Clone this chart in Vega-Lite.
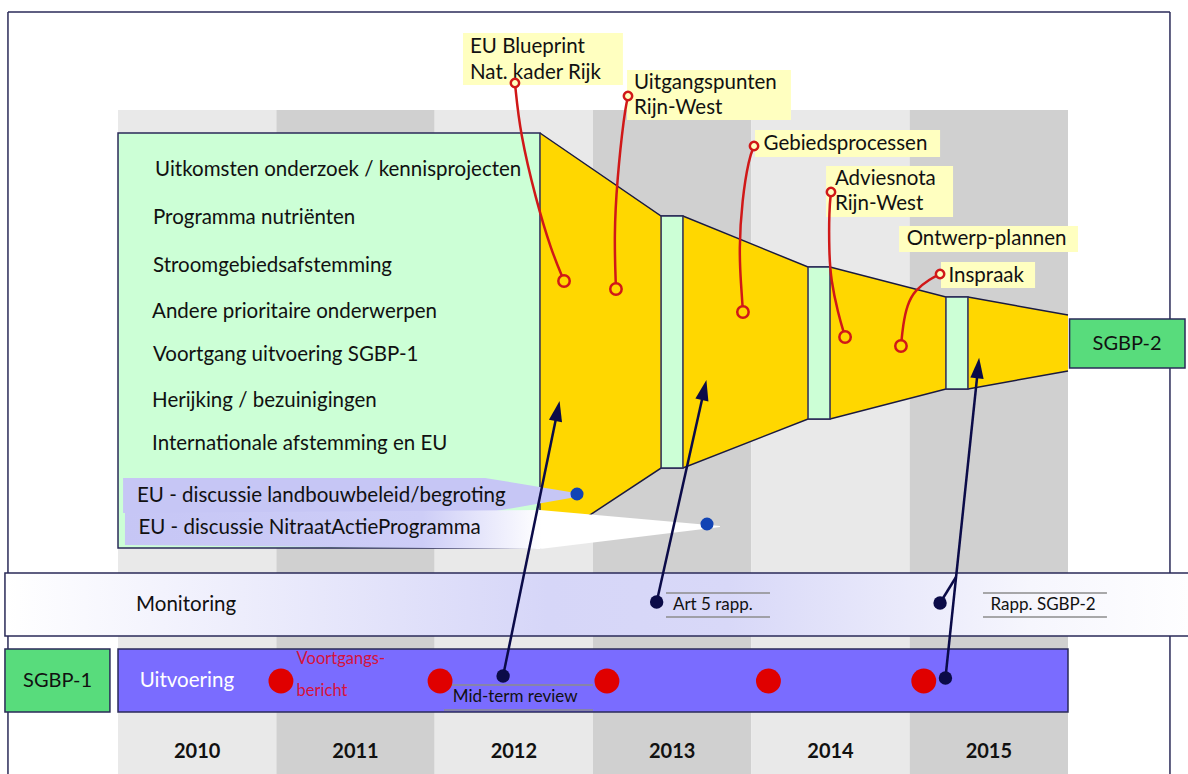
{
 "$schema": "https://vega.github.io/schema/vega-lite/v6.json",
 "width": 1188, "height": 774, "autosize": "none", "padding": 0,
 "background": "white",
 "config": {"view": {"stroke": null}, "text": {"font": "Lato", "fontSize": 20.5, "align": "left", "baseline": "middle", "color": "#111111"}},
 "encoding": {
  "x": {"field": "x", "type": "quantitative", "scale": {"domain": [2009.2547, 2016.7579], "nice": false, "zero": false}, "axis": null},
  "y": {"field": "y", "type": "quantitative", "scale": {"domain": [0, 774], "reverse": true, "nice": false, "zero": false}, "axis": null}
 },
 "layer": [
  {"data": {"values": [
    {"x": 2010, "x2": 2011, "y": 110, "y2": 774, "shade": "light"},
    {"x": 2011, "x2": 2012, "y": 110, "y2": 774, "shade": "dark"},
    {"x": 2012, "x2": 2013, "y": 110, "y2": 774, "shade": "light"},
    {"x": 2013, "x2": 2014, "y": 110, "y2": 774, "shade": "dark"},
    {"x": 2014, "x2": 2015, "y": 110, "y2": 774, "shade": "light"},
    {"x": 2015, "x2": 2016, "y": 110, "y2": 774, "shade": "dark"}]},
   "mark": {"type": "rect"},
   "encoding": {"x2": {"field": "x2"}, "y2": {"field": "y2"},
    "color": {"field": "shade", "type": "nominal", "scale": {"domain": ["light", "dark"], "range": ["#e9e9e9", "#d0d0d0"]}, "legend": null}}},
  {"data": {"values": [
    {"x": 2009.305, "x2": 2009.305, "y": 12, "y2": 774},
    {"x": 2016.644, "x2": 2016.644, "y": 12, "y2": 774},
    {"x": 2009.305, "x2": 2016.644, "y": 12, "y2": 12}]},
   "mark": {"type": "rule", "color": "#2a2a58", "strokeWidth": 1.5},
   "encoding": {"x2": {"field": "x2"}, "y2": {"field": "y2"}}},
  {"data": {"name": "funnel", "values": [
    {"x": 2012.665, "top": 133, "bot": 548},
    {"x": 2013.430, "top": 216, "bot": 468},
    {"x": 2013.568, "top": 216, "bot": 468},
    {"x": 2014.358, "top": 267, "bot": 419},
    {"x": 2014.497, "top": 267, "bot": 419},
    {"x": 2015.229, "top": 297, "bot": 389},
    {"x": 2015.368, "top": 297, "bot": 389},
    {"x": 2016.000, "top": 315, "bot": 371}]},
   "layer": [
    {"mark": {"type": "area", "color": "#ffd700", "opacity": 1},
     "encoding": {"y": {"field": "top", "type": "quantitative"}, "y2": {"field": "bot"}}},
    {"mark": {"type": "line", "color": "#1a1a40", "strokeWidth": 1.5},
     "encoding": {"y": {"field": "top", "type": "quantitative"}}},
    {"mark": {"type": "line", "color": "#1a1a40", "strokeWidth": 1.5},
     "encoding": {"y": {"field": "bot", "type": "quantitative"}}}
   ]},
  {"data": {"values": [
    {"x": 2010, "x2": 2012.665, "y": 133, "y2": 548},
    {"x": 2013.430, "x2": 2013.568, "y": 216, "y2": 468},
    {"x": 2014.358, "x2": 2014.497, "y": 267, "y2": 419},
    {"x": 2015.229, "x2": 2015.368, "y": 297, "y2": 389}]},
   "mark": {"type": "rect", "fill": "#ccffd6", "stroke": "#2a2a58", "strokeWidth": 1.5},
   "encoding": {"x2": {"field": "x2"}, "y2": {"field": "y2"}}},
  {"data": {"values": [
    {"x": 2010.032, "y": 478, "y2": 513},
    {"x": 2012.318, "y": 478, "y2": 513},
    {"x": 2012.930, "y": 494, "y2": 496}]},
   "mark": {"type": "area", "color": "#c6c6f5", "opacity": 1},
   "encoding": {"y2": {"field": "y2"}}},
  {"data": {"values": [
    {"x": 2010.044, "y": 513, "y2": 545},
    {"x": 2012.665, "y": 510, "y2": 549},
    {"x": 2013.802, "y": 526, "y2": 527}]},
   "mark": {"type": "area", "opacity": 1, "fill": {"gradient": "linear", "x1": 0, "x2": 1, "y1": 0, "y2": 0, "stops": [
      {"offset": 0, "color": "#c6c6f5"}, {"offset": 0.5, "color": "#cdcdf7"}, {"offset": 0.7, "color": "#ffffff"}, {"offset": 1, "color": "#ffffff"}]}},
   "encoding": {"y2": {"field": "y2"}}},
  {"data": {"values": [{"x": 2012.899, "y": 494}, {"x": 2013.720, "y": 524}]},
   "mark": {"type": "point", "shape": "circle", "filled": true, "color": "#1244b4", "size": 170, "opacity": 1}},
  {"data": {"values": [
    {"x": 2010.234, "y": 170, "label": "Uitkomsten onderzoek / kennisprojecten"},
    {"x": 2010.221, "y": 218, "label": "Programma nutriënten"},
    {"x": 2010.221, "y": 266, "label": "Stroomgebiedsafstemming"},
    {"x": 2010.215, "y": 312, "label": "Andere prioritaire onderwerpen"},
    {"x": 2010.221, "y": 355, "label": "Voortgang uitvoering SGBP-1"},
    {"x": 2010.215, "y": 401, "label": "Herijking / bezuinigingen"},
    {"x": 2010.215, "y": 444, "label": "Internationale afstemming en EU"},
    {"x": 2010.120, "y": 496, "label": "EU - discussie landbouwbeleid/begroting"},
    {"x": 2010.129, "y": 528, "label": "EU - discussie NitraatActieProgramma"}]},
   "mark": {"type": "text"},
   "encoding": {"text": {"field": "label"}}},
  {"data": {"values": [
    {"x": 2012.179, "x2": 2013.189, "y": 33, "y2": 85},
    {"x": 2013.215, "x2": 2014.250, "y": 70, "y2": 120},
    {"x": 2014.023, "x2": 2015.192, "y": 130, "y2": 157},
    {"x": 2014.472, "x2": 2015.274, "y": 166, "y2": 217},
    {"x": 2014.933, "x2": 2016.063, "y": 226, "y2": 252},
    {"x": 2015.198, "x2": 2015.792, "y": 262, "y2": 288}]},
   "mark": {"type": "rect", "fill": "#ffffc0"},
   "encoding": {"x2": {"field": "x2"}, "y2": {"field": "y2"}}},
  {"data": {"values": [
    {"x": 2012.223, "y": 47, "label": "EU Blueprint"},
    {"x": 2012.223, "y": 73, "label": "Nat. kader Rijk"},
    {"x": 2013.259, "y": 83, "label": "Uitgangspunten"},
    {"x": 2013.259, "y": 108, "label": "Rijn-West"},
    {"x": 2014.077, "y": 144, "label": "Gebiedsprocessen"},
    {"x": 2014.528, "y": 179, "label": "Adviesnota"},
    {"x": 2014.528, "y": 204, "label": "Rijn-West"},
    {"x": 2014.981, "y": 239, "label": "Ontwerp-plannen"},
    {"x": 2015.245, "y": 276, "label": "Inspraak"}]},
   "mark": {"type": "text"},
   "encoding": {"text": {"field": "label"}}},
  {"data": {"name": "connectors", "values": [
    {"id": "a", "i": 0, "x": 2012.507, "y": 83, "end": "top"},
    {"id": "a", "i": 1, "x": 2012.539, "y": 133},
    {"id": "a", "i": 2, "x": 2012.640, "y": 200},
    {"id": "a", "i": 3, "x": 2012.735, "y": 250},
    {"id": "a", "i": 4, "x": 2012.817, "y": 281, "end": "bottom"},
    {"id": "b", "i": 0, "x": 2013.221, "y": 96, "end": "top"},
    {"id": "b", "i": 1, "x": 2013.196, "y": 115},
    {"id": "b", "i": 2, "x": 2013.152, "y": 180},
    {"id": "b", "i": 3, "x": 2013.133, "y": 235},
    {"id": "b", "i": 4, "x": 2013.145, "y": 289, "end": "bottom"},
    {"id": "c", "i": 0, "x": 2014.017, "y": 146, "end": "top"},
    {"id": "c", "i": 1, "x": 2013.985, "y": 158},
    {"id": "c", "i": 2, "x": 2013.941, "y": 200},
    {"id": "c", "i": 3, "x": 2013.922, "y": 250},
    {"id": "c", "i": 4, "x": 2013.935, "y": 285},
    {"id": "c", "i": 5, "x": 2013.947, "y": 312, "end": "bottom"},
    {"id": "d", "i": 0, "x": 2014.503, "y": 192, "end": "top"},
    {"id": "d", "i": 1, "x": 2014.491, "y": 210},
    {"id": "d", "i": 2, "x": 2014.491, "y": 253},
    {"id": "d", "i": 3, "x": 2014.503, "y": 280},
    {"id": "d", "i": 4, "x": 2014.547, "y": 313},
    {"id": "d", "i": 5, "x": 2014.592, "y": 337, "end": "bottom"},
    {"id": "e", "i": 0, "x": 2015.192, "y": 274, "end": "top"},
    {"id": "e", "i": 1, "x": 2015.128, "y": 279},
    {"id": "e", "i": 2, "x": 2015.034, "y": 290},
    {"id": "e", "i": 3, "x": 2014.983, "y": 305},
    {"id": "e", "i": 4, "x": 2014.958, "y": 325},
    {"id": "e", "i": 5, "x": 2014.945, "y": 346, "end": "bottom"}]},
   "layer": [
    {"mark": {"type": "line", "color": "#d01818", "strokeWidth": 2.5, "interpolate": "basis"},
     "encoding": {"detail": {"field": "id"}, "order": {"field": "i", "type": "quantitative"}}},
    {"transform": [{"filter": "datum.end === 'top'"}],
     "mark": {"type": "point", "shape": "circle", "filled": true, "fill": "#ffffc0", "stroke": "#d01818", "strokeWidth": 2.5, "size": 70, "opacity": 1}},
    {"transform": [{"filter": "datum.end === 'bottom'"}],
     "mark": {"type": "point", "shape": "circle", "filled": true, "fill": "#ffd700", "stroke": "#d01818", "strokeWidth": 2.5, "size": 130, "opacity": 1}}
   ]},
  {"data": {"values": [{"x": 2009.286, "x2": 2016.9, "y": 573, "y2": 636}]},
   "mark": {"type": "rect", "stroke": "#2a2a58", "strokeWidth": 1.5, "fill": {"gradient": "linear", "x1": 0, "x2": 1, "y1": 0, "y2": 0, "stops": [
      {"offset": 0, "color": "#ffffff"}, {"offset": 0.45, "color": "#d6d6f8"}, {"offset": 0.6, "color": "#d8d8f8"}, {"offset": 0.85, "color": "#f6f6fd"}, {"offset": 1, "color": "#ffffff"}]}},
   "encoding": {"x2": {"field": "x2"}, "y2": {"field": "y2"}}},
  {"data": {"values": [
    {"x": 2013.461, "x2": 2014.118, "y": 593}, {"x": 2013.461, "x2": 2014.118, "y": 617},
    {"x": 2015.463, "x2": 2016.246, "y": 593}, {"x": 2015.463, "x2": 2016.246, "y": 617}]},
   "mark": {"type": "rule", "color": "#8c8c8c", "strokeWidth": 1.5},
   "encoding": {"x2": {"field": "x2"}}},
  {"data": {"values": [
    {"x": 2010.114, "y": 605, "label": "Monitoring", "fs": "big"},
    {"x": 2013.505, "y": 605, "label": "Art 5 rapp.", "fs": "small"},
    {"x": 2015.511, "y": 605, "label": "Rapp. SGBP-2", "fs": "small"}]},
   "mark": {"type": "text"},
   "encoding": {"text": {"field": "label"}, "size": {"field": "fs", "type": "nominal", "scale": {"domain": ["big", "small"], "range": [20.5, 17]}, "legend": null}}},
  {"data": {"values": [{"x": 2010, "x2": 2016, "y": 649, "y2": 712}]},
   "mark": {"type": "rect", "fill": "#7a6cff", "stroke": "#2a2a58", "strokeWidth": 1.5},
   "encoding": {"x2": {"field": "x2"}, "y2": {"field": "y2"}}},
  {"data": {"values": [
    {"x": 2009.286, "x2": 2009.949, "y": 649, "y2": 712},
    {"x": 2016.01, "x2": 2016.739, "y": 319, "y2": 368}]},
   "mark": {"type": "rect", "fill": "#58dc7c", "stroke": "#2a2a58", "strokeWidth": 1.5},
   "encoding": {"x2": {"field": "x2"}, "y2": {"field": "y2"}}},
  {"data": {"values": [
    {"x": 2009.618, "y": 681, "label": "SGBP-1"},
    {"x": 2016.373, "y": 344, "label": "SGBP-2"}]},
   "mark": {"type": "text", "align": "center", "fontSize": 20},
   "encoding": {"text": {"field": "label"}}},
  {"data": {"values": [{"x": 2010.137, "y": 681, "label": "Uitvoering"}]},
   "mark": {"type": "text", "color": "#ffffff"},
   "encoding": {"text": {"field": "label"}}},
  {"data": {"values": [
    {"x": 2012.059, "x2": 2013.0, "y": 685}, {"x": 2012.059, "x2": 2013.0, "y": 710}]},
   "mark": {"type": "rule", "color": "#8c8c8c", "strokeWidth": 1.5},
   "encoding": {"x2": {"field": "x2"}}},
  {"data": {"values": [
    {"x": 2011.029, "y": 681}, {"x": 2012.034, "y": 681}, {"x": 2013.088, "y": 681},
    {"x": 2014.108, "y": 681}, {"x": 2015.089, "y": 681}]},
   "mark": {"type": "point", "shape": "circle", "filled": true, "color": "#e00000", "size": 620, "opacity": 1}},
  {"data": {"values": [
    {"x": 2011.128, "y": 659, "label": "Voortgangs-"},
    {"x": 2011.128, "y": 691, "label": "bericht"}]},
   "mark": {"type": "text", "color": "#d6133c", "fontSize": 16.5},
   "encoding": {"text": {"field": "label"}}},
  {"data": {"values": [{"x": 2012.114, "y": 697, "label": "Mid-term review"}]},
   "mark": {"type": "text", "fontSize": 17},
   "encoding": {"text": {"field": "label"}}},
  {"data": {"values": [
    {"x": 2012.432, "y": 676, "x2": 2012.776, "y2": 411},
    {"x": 2013.402, "y": 602, "x2": 2013.702, "y2": 390},
    {"x": 2015.226, "y": 678, "x2": 2015.432, "y2": 368},
    {"x": 2015.192, "y": 603, "x2": 2015.293, "y2": 577}]},
   "mark": {"type": "rule", "color": "#0b0b48", "strokeWidth": 2.5},
   "encoding": {"x2": {"field": "x2"}, "y2": {"field": "y2"}}},
  {"data": {"values": [
    {"x": 2012.776, "y": 411, "angle": 11.55},
    {"x": 2013.702, "y": 390, "angle": 12.6},
    {"x": 2015.432, "y": 368, "angle": 6.0}]},
   "mark": {"type": "point", "shape": "M0,-1L0.65,1L-0.65,1Z", "filled": true, "color": "#0b0b48", "size": 420, "opacity": 1},
   "encoding": {"angle": {"field": "angle", "type": "quantitative", "scale": null}}},
  {"data": {"values": [
    {"x": 2012.432, "y": 676}, {"x": 2013.402, "y": 602}, {"x": 2015.192, "y": 603}, {"x": 2015.226, "y": 678}]},
   "mark": {"type": "point", "shape": "circle", "filled": true, "color": "#0b0b48", "size": 180, "opacity": 1}},
  {"data": {"values": [
    {"x": 2010.5, "y": 752, "label": "2010"}, {"x": 2011.5, "y": 752, "label": "2011"},
    {"x": 2012.5, "y": 752, "label": "2012"}, {"x": 2013.5, "y": 752, "label": "2013"},
    {"x": 2014.5, "y": 752, "label": "2014"}, {"x": 2015.5, "y": 752, "label": "2015"}]},
   "mark": {"type": "text", "align": "center", "fontWeight": "bold", "fontSize": 20},
   "encoding": {"text": {"field": "label"}}}
 ]
}
